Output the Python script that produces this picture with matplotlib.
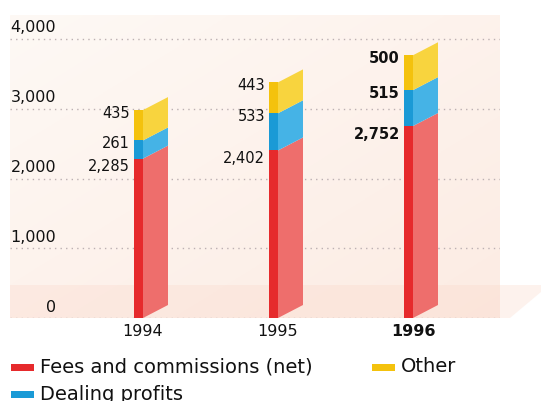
import numpy as np
import matplotlib
matplotlib.use("Agg")
import matplotlib.pyplot as plt
from matplotlib.patches import Polygon, Rectangle

years = ["1994", "1995", "1996"]
fees = [2285, 2402, 2752]
dealing = [261, 533, 515]
other = [435, 443, 500]
yticks = [0, 1000, 2000, 3000, 4000]
ytick_labels = ["0", "1,000", "2,000", "3,000", "4,000"]
series_names = ["Fees and commissions (net)", "Dealing profits", "Other"]

front_cols = ["#e62a2c", "#1a9ad6", "#f4c20d"]
side_cols = ["#ee6e6c", "#45b3e6", "#f8d43e"]

W, H = 541, 401
fig = plt.figure(figsize=(W / 100, H / 100), dpi=100)
fig.patch.set_facecolor("white")

x0_px, x1_px = 10, 500
y0_px, ytop_px = 318, 15
ppu_y = (y0_px - 39) / 4000.0  # px per data unit
ymax = (y0_px - ytop_px) / ppu_y
ax = fig.add_axes([x0_px / W, (H - y0_px) / H, (x1_px - x0_px) / W, (y0_px - ytop_px) / H])

px_per_unit = 135.0
front0 = 134
xmin = (x0_px - front0) / px_per_unit
xmax = (x1_px - front0) / px_per_unit
ax.set_xlim(xmin, xmax)
ax.set_ylim(0, ymax)

# background gradient (light peach, pinker toward bottom/right)
ny, nx = 200, 200
yy = np.linspace(0, 1, ny)[:, None]
xx = np.linspace(0, 1, nx)[None, :]
top_c = np.array([254, 249, 245]) / 255
bot_c = np.array([252, 234, 225]) / 255
t = np.clip(0.45 * yy + 0.45 * xx, 0, 1)
img = top_c[None, None, :] * (1 - t[..., None]) + bot_c[None, None, :] * t[..., None]
ax.imshow(img, extent=[xmin, xmax, 0, ymax], origin="upper", aspect="auto", zorder=0)
floor_h = (318 - 285) / ppu_y
ax.add_patch(Rectangle((xmin, 0), xmax - xmin, floor_h, facecolor="#fbd6c8", alpha=0.3,
                       edgecolor="none", zorder=0.5))
# faint floor wedge beyond right edge
fig.patches.append(Polygon([(500 / W, 1 - 285 / H), (541 / W, 1 - 285 / H), (541 / W, 1 - 292 / H),
                            (510 / W, 1 - 318 / H), (500 / W, 1 - 318 / H)],
                           closed=True, transform=fig.transFigure, facecolor="#fdeae2",
                           edgecolor="none", alpha=0.6))

for s in ax.spines.values():
    s.set_visible(False)
ax.set_xticks([])
ax.set_yticks([])

for v, lab in zip(yticks, ytick_labels):
    ax.axhline(v, color="#bcb0b2", lw=1.0, ls=(0, (1, 3)), zorder=1)
    ax.text(xmin + 46 / px_per_unit, v + 11 / ppu_y, lab,
            ha="right", va="center", fontsize=11.5, color="#111111", zorder=5)

fw = 9 / px_per_unit
dx = 25 / px_per_unit
dy = 13 / ppu_y

xs = np.arange(len(years))
bottoms = np.zeros(3)
label_off_px = [8, 3.5, 3]
for k, vals in enumerate([fees, dealing, other]):
    vals = np.array(vals, dtype=float)
    ax.bar(xs, vals, width=fw, bottom=bottoms, align="edge", color=front_cols[k],
           edgecolor="none", zorder=3)
    for i in range(3):
        b, tp = bottoms[i], bottoms[i] + vals[i]
        xl = xs[i] + fw
        poly = Polygon([(xl, b), (xl + dx, b + dy), (xl + dx, tp + dy), (xl, tp)],
                       closed=True, facecolor=side_cols[k], edgecolor="none", zorder=3)
        ax.add_patch(poly)
    for i in range(3):
        tp = bottoms[i] + vals[i]
        ax.annotate(f"{int(vals[i]):,}", (xs[i], tp), xytext=(-3, -label_off_px[k] * 0.72),
                    textcoords="offset points", ha="right", va="center", fontsize=10.5,
                    color="#111111", fontweight="bold" if i == 2 else "normal", zorder=5)
    bottoms += vals

for i, y in enumerate(years):
    fig.text((front0 + px_per_unit * i + 9) / W, 1 - 331 / H, y, ha="center", va="center",
             fontsize=11.5, color="#111111", fontweight="bold" if i == 2 else "normal")

# legend
leg = [(11, 367, 0), (11, 394, 1), (372, 367, 2)]
for lx, ly, k in leg:
    fig.patches.append(Rectangle((lx / W, 1 - (ly + 3.5) / H), 23 / W, 7 / H,
                                 transform=fig.transFigure, facecolor=front_cols[k],
                                 edgecolor="none"))
    fig.text((lx + 29) / W, 1 - ly / H, series_names[k], ha="left", va="center",
             fontsize=14, color="#111111")

fig.savefig("out.png", dpi=100, facecolor="white")
